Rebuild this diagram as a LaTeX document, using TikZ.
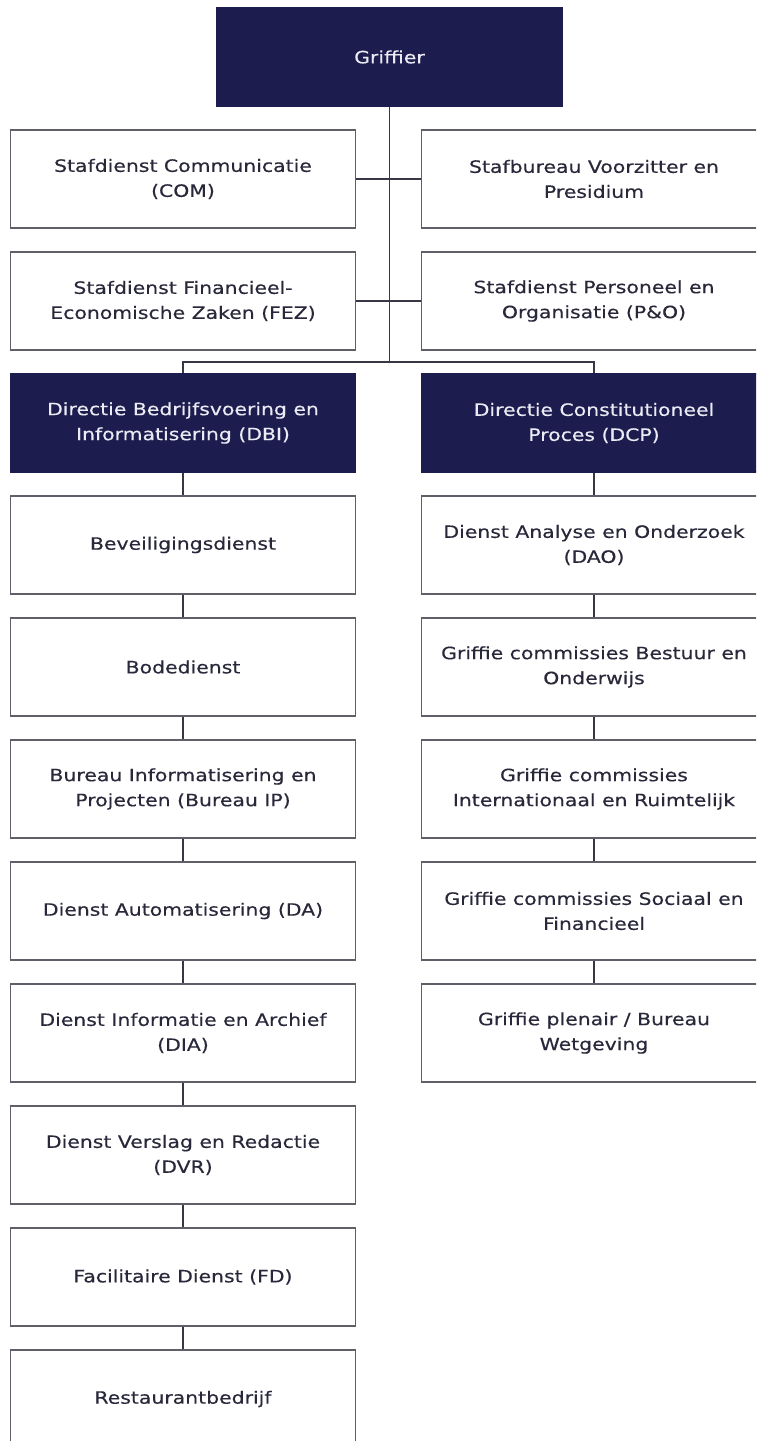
\documentclass[tikz,border=0pt]{standalone}
\usepackage{fontspec}
\setmainfont{DejaVu Sans}[FakeStretch=1.2,FakeBold=0.35]
\definecolor{navy}{RGB}{28,28,78}
\definecolor{boxline}{RGB}{95,95,105}
\definecolor{conn}{RGB}{55,55,70}
\definecolor{txt}{RGB}{40,40,58}
\definecolor{lighttxt}{RGB}{235,235,245}
\tikzset{
  orgbox/.style={draw=boxline, line width=1.6pt, fill=white, text=txt,
    minimum width=345pt, minimum height=98pt, inner sep=0pt, align=center,
    font=\fontsize{17}{25}\selectfont},
  darkbox/.style={orgbox, draw=navy, fill=navy, text=lighttxt},
  link/.style={draw=conn, line width=1.6pt}
}
\begin{document}
\begin{tikzpicture}[x=1pt,y=-1pt]
\useasboundingbox (0,0) rectangle (756,1441);
\clip (0,0) rectangle (756,1441);
\fill[white] (0,0) rectangle (756,1441);
% top
\node[darkbox] (grif) at (389.5,57) {Griffier};
\node[orgbox] (com) at (183,179) {Stafdienst Communicatie\\(COM)};
\node[orgbox] (vp) at (594,179) {Stafbureau Voorzitter en\\Presidium};
\node[orgbox] (fez) at (183,301) {Stafdienst Financieel-\\Economische Zaken (FEZ)};
\node[orgbox] (po) at (594,301) {Stafdienst Personeel en\\Organisatie (P\&O)};
\coordinate (bus) at (389.5,362);
% directies
\node[darkbox] (dbi) at (183,423) {Directie Bedrijfsvoering en\\Informatisering (DBI)};
\node[darkbox] (dcp) at (594,423) {Directie Constitutioneel\\Proces (DCP)};
% left chain
\node[orgbox] (bev) at (183,545) {Beveiligingsdienst};
\node[orgbox] (bode) at (183,667) {Bodedienst};
\node[orgbox] (bip) at (183,789) {Bureau Informatisering en\\Projecten (Bureau IP)};
\node[orgbox] (da) at (183,911) {Dienst Automatisering (DA)};
\node[orgbox] (dia) at (183,1033) {Dienst Informatie en Archief\\(DIA)};
\node[orgbox] (dvr) at (183,1155) {Dienst Verslag en Redactie\\(DVR)};
\node[orgbox] (fd) at (183,1277) {Facilitaire Dienst (FD)};
\node[orgbox] (rest) at (183,1399) {Restaurantbedrijf};
% right chain
\node[orgbox] (dao) at (594,545) {Dienst Analyse en Onderzoek\\(DAO)};
\node[orgbox] (gbo) at (594,667) {Griffie commissies Bestuur en\\Onderwijs};
\node[orgbox] (gir) at (594,789) {Griffie commissies\\Internationaal en Ruimtelijk};
\node[orgbox] (gsf) at (594,911) {Griffie commissies Sociaal en\\Financieel};
\node[orgbox] (gpw) at (594,1033) {Griffie plenair / Bureau\\Wetgeving};
% connectors
\draw[link] (grif.south) -- (bus);
\draw[link] (com.east) -- (vp.west);
\draw[link] (fez.east) -- (po.west);
\draw[link] (bus) -| (dbi.north);
\draw[link] (bus) -| (dcp.north);
\draw[link] (dbi) -- (bev);
\draw[link] (bev) -- (bode);
\draw[link] (bode) -- (bip);
\draw[link] (bip) -- (da);
\draw[link] (da) -- (dia);
\draw[link] (dia) -- (dvr);
\draw[link] (dvr) -- (fd);
\draw[link] (fd) -- (rest);
\draw[link] (dcp) -- (dao);
\draw[link] (dao) -- (gbo);
\draw[link] (gbo) -- (gir);
\draw[link] (gir) -- (gsf);
\draw[link] (gsf) -- (gpw);
\end{tikzpicture}
\end{document}
